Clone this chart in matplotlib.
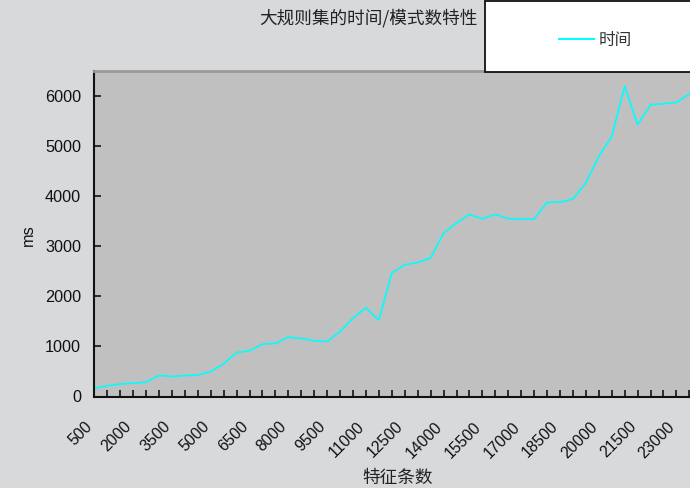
import matplotlib
matplotlib.use("Agg")
import matplotlib.pyplot as plt
from matplotlib.patches import Rectangle
from matplotlib.lines import Line2D
from matplotlib.transforms import ScaledTranslation

categories = [500, 1000, 1500, 2000, 2500, 3000, 3500, 4000, 4500, 5000,
              5500, 6000, 6500, 7000, 7500, 8000, 8500, 9000, 9500, 10000,
              10500, 11000, 11500, 12000, 12500, 13000, 13500, 14000, 14500, 15000,
              15500, 16000, 16500, 17000, 17500, 18000, 18500, 19000, 19500, 20000,
              20500, 21000, 21500, 22000, 22500, 23000, 23500]
times = [165, 214, 247, 267, 287, 419, 399, 419, 427, 499,
         653, 878, 912, 1045, 1058, 1185, 1158, 1112, 1098, 1297,
         1565, 1770, 1525, 2463, 2629, 2675, 2762, 3261, 3461, 3627,
         3547, 3633, 3547, 3540, 3540, 3872, 3879, 3940, 4259, 4790,
         5190, 6188, 5423, 5822, 5842, 5868, 6036]
yticks = [0, 1000, 2000, 3000, 4000, 5000, 6000]
label_every = 3

title = "大规则集的时间/模式数特性"
xlabel = "特征条数"
ylabel = "ms"
series_name = "时间"

cjk = ["Noto Sans CJK SC", "DejaVu Sans"]
num = ["Liberation Sans", "DejaVu Sans"]

W, H = 690, 488
fig = plt.figure(figsize=(W / 100, H / 100), dpi=100)
fig.patch.set_facecolor("#d8d9db")

left = 94.3 / W
bottom = 1 - 396.5 / H
top = 1 - 70.7 / H
ax = fig.add_axes([left, bottom, 1 - left, top - bottom])
ax.set_facecolor("#c0c0c0")

idx = list(range(len(categories)))
ax.plot(idx, times, color="#00ffff", lw=1.2, solid_joinstyle="round")

ax.set_xlim(0, 46.05)
ax.set_ylim(0, 6500)

ax.set_xticks(idx)
ax.set_xticklabels([str(c) if i % label_every == 0 else "" for i, c in enumerate(categories)],
                   rotation=45, ha="right", va="center", rotation_mode="anchor",
                   fontsize=11.3, family=num, color="#111111")
ax.tick_params(axis="x", direction="in", length=5, width=1.2, color="#111111", pad=20)
off = ScaledTranslation(-4 / 100, 0, fig.dpi_scale_trans)
for lab in ax.get_xticklabels():
    lab.set_transform(lab.get_transform() + off)

ax.set_yticks(yticks)
ax.set_yticklabels([str(v) for v in yticks], fontsize=11.7, family=num, color="#111111")
ax.tick_params(axis="y", direction="in", length=5, width=1.2, color="#111111", pad=9.5)

ax.spines["right"].set_visible(False)
ax.spines["top"].set_color("#999999")
ax.spines["top"].set_linewidth(2)
ax.spines["left"].set_color("#111111")
ax.spines["left"].set_linewidth(1.5)
ax.spines["bottom"].set_color("#111111")
ax.spines["bottom"].set_linewidth(1.5)

fig.text(368.5 / W, 1 - 18 / H, title, ha="center", va="center",
         fontsize=12.7, family=cjk, color="#222222")
fig.text(397.5 / W, 1 - 478 / H, xlabel, ha="center", va="center",
         fontsize=12.7, family=cjk, color="#222222")
fig.text(28 / W, 1 - 235 / H, ylabel, ha="center", va="center", rotation=90,
         fontsize=11.7, family=num, color="#111111")

# legend box
rect = Rectangle((485 / W, 1 - 72 / H), (W + 10 - 485) / W, 71 / H,
                 transform=fig.transFigure, facecolor="white", edgecolor="#111111",
                 lw=1.3, zorder=5, clip_on=False)
fig.patches.append(rect)
handle = Line2D([], [], color="#00ffff", lw=1.5)
leg = fig.legend([handle], [series_name], loc="center left",
                 bbox_to_anchor=(559 / W, 1 - 40 / H), frameon=False,
                 prop={"family": cjk, "size": 12}, handlelength=2.1,
                 handletextpad=0.3, borderpad=0, borderaxespad=0)
leg.set_zorder(6)
for t in leg.get_texts():
    t.set_color("#333333")

fig.savefig("out.png", dpi=100, facecolor=fig.get_facecolor())
